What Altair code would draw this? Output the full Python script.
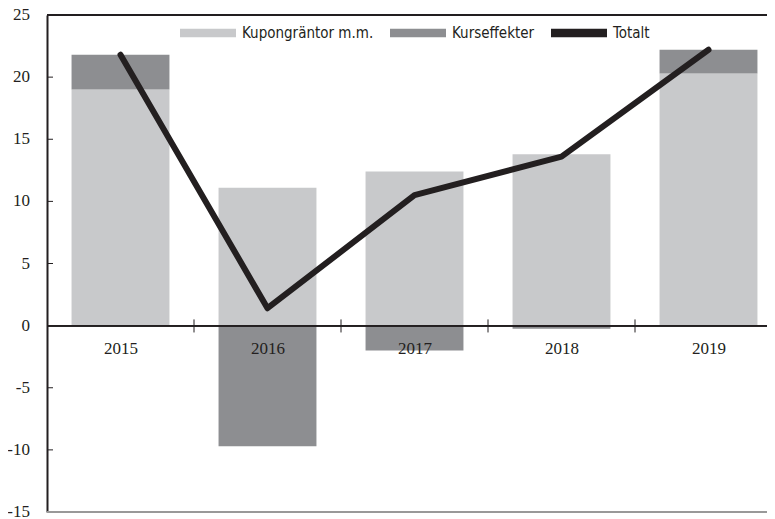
import altair as alt
import pandas as pd

years = [2015, 2016, 2017, 2018, 2019]
kupong = [19.0, 11.1, 12.4, 13.8, 20.3]
kurs = [2.8, -9.7, -2.0, -0.25, 1.9]
totalt = [21.8, 1.4, 10.5, 13.6, 22.2]
series = ["Kupongräntor m.m.", "Kurseffekter", "Totalt"]
colors = ["#c8c9cb", "#8d8e91", "#231f20"]
y_ticks = [-15, -10, -5, 0, 5, 10, 15, 20, 25]
y_labels = ["-15", "-10", "-5", "0", "5", "10", "15", "20", "25"]
inner_ticks = [-10, -5, 5, 10, 15, 20]
boundaries = [2015.5, 2016.5, 2017.5, 2018.5]

W, H = 720, 497
YMIN, YMAX = -15, 25
XMIN = 2014.5
XMAX = XMIN + W / 147.0
HALF = 0.333

rows = []
for yr, k, c in zip(years, kupong, kurs):
    rows.append({"year": yr, "x0": yr - HALF, "x1": yr + HALF, "y0": 0, "y1": k, "serie": series[0]})
    if c >= 0:
        rows.append({"year": yr, "x0": yr - HALF, "x1": yr + HALF, "y0": k, "y1": k + c, "serie": series[1]})
    else:
        rows.append({"year": yr, "x0": yr - HALF, "x1": yr + HALF, "y0": 0, "y1": c, "serie": series[1]})
bars_df = pd.DataFrame(rows)
line_df = pd.DataFrame({"year": years, "value": totalt, "serie": series[2]})
bnd_df = pd.DataFrame({"b": boundaries})
itk_df = pd.DataFrame({"t": inner_ticks})
ylab_df = pd.DataFrame({"v": y_ticks, "lab": y_labels})

xscale = alt.Scale(domain=[XMIN, XMAX], nice=False, zero=False)
yscale = alt.Scale(domain=[YMIN, YMAX], nice=False, zero=False)
cscale = alt.Scale(domain=series, range=colors)

serif = "Liberation Serif"
sans = "'Liberation Sans Narrow', 'DejaVu Sans Condensed', 'Arial Narrow', sans-serif"

zero_offset = -(H * (0 - YMIN) / (YMAX - YMIN))

xaxis = alt.Axis(values=years, format="d", domain=False, ticks=False, grid=False,
                 labelFont=serif, labelFontSize=17, labelColor="#231f20",
                 labelPadding=15, offset=zero_offset, title=None, zindex=2)
yaxis = alt.Axis(values=y_ticks, ticks=False, grid=False, labels=False,
                 domainColor="#231f20", domainWidth=2, title=None)

bars = alt.Chart(bars_df).mark_rect().encode(
    x=alt.X("x0:Q", scale=xscale, axis=xaxis),
    x2="x1:Q",
    y=alt.Y("y0:Q", scale=yscale, axis=yaxis),
    y2="y1:Q",
    color=alt.Color("serie:N", scale=cscale, title=None,
                    legend=alt.Legend(orient="none", direction="horizontal",
                                      legendX=133, legendY=-10,
                                      symbolType="M-1,-0.15L1,-0.15L1,0.15L-1,0.15Z",
                                      symbolSize=3136, symbolStrokeWidth=0,
                                      labelFont=sans, labelFontSize=15,
                                      labelColor="#231f20", labelOffset=6,
                                      columnPadding=16, padding=0)),
)

zero = alt.Chart(line_df).mark_rule(color="#231f20", strokeWidth=1.5).encode(
    y=alt.datum(0, scale=yscale, axis=yaxis)
)
top = alt.Chart(line_df).mark_rule(color="#231f20", strokeWidth=1.5).encode(
    y=alt.datum(YMAX, scale=yscale, axis=yaxis)
)
bottom = alt.Chart(line_df).mark_rule(color="#999999", strokeWidth=2).encode(
    y=alt.datum(YMIN, scale=yscale, axis=yaxis)
)
xticks = alt.Chart(bnd_df).mark_rule(color="#231f20", strokeWidth=1).encode(
    x=alt.X("b:Q", scale=xscale, axis=xaxis),
    y=alt.datum(-0.55, scale=yscale, axis=yaxis),
    y2=alt.datum(0.5),
)
yticks = alt.Chart(itk_df).mark_rule(color="#231f20", strokeWidth=1).encode(
    x=alt.value(0), x2=alt.value(6),
    y=alt.Y("t:Q", scale=yscale, axis=yaxis),
)
ylabels = alt.Chart(ylab_df).mark_text(
    align="right", baseline="middle", font=serif, fontSize=17, color="#231f20"
).encode(
    x=alt.value(-17),
    y=alt.Y("v:Q", scale=yscale, axis=yaxis),
    text="lab:N",
)
line = alt.Chart(line_df).mark_line(strokeWidth=6, strokeCap="round", strokeJoin="round").encode(
    x=alt.X("year:Q", scale=xscale, axis=xaxis),
    y=alt.Y("value:Q", scale=yscale, axis=yaxis),
    color=alt.Color("serie:N", scale=cscale, title=None),
)

chart = alt.layer(bars, zero, top, bottom, xticks, yticks, ylabels, line).properties(
    width=W, height=H,
    padding={"left": 39, "top": 7, "right": 0, "bottom": 9},
    autosize="none",
    background="white",
).configure_view(stroke=None)

chart.save("out.html", embed_options={"renderer": "svg", "actions": False})
